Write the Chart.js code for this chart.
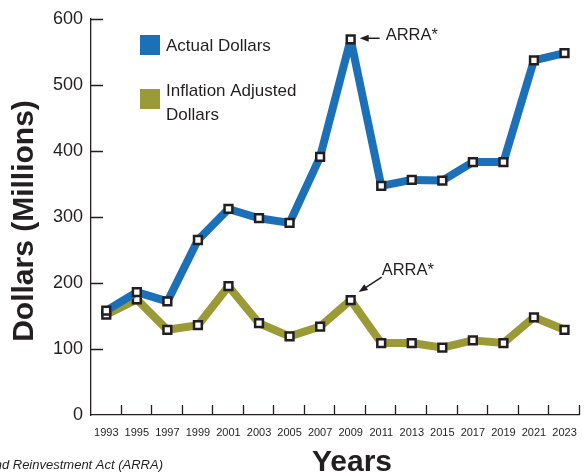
<!DOCTYPE html>
<html>
<head>
<meta charset="utf-8">
<script src="https://cdn.jsdelivr.net/npm/chart.js@4.4.1/dist/chart.umd.min.js"></script>
<style>
    body { margin: 0; background: #fff; }
    #wrap { width: 588px; height: 475px; }
</style>
</head>
<body>
<div id="wrap"><canvas id="lineChart" width="588" height="475"></canvas></div>
<script>
// data
const years = ['1993', '1995', '1997', '1999', '2001', '2003', '2005', '2007',
    '2009', '2011', '2013', '2015', '2017', '2019', '2021', '2023'];
const actualDollars = [158, 186, 172, 265, 312, 298, 291, 391, 569, 347, 356, 355, 383, 383, 537, 548];
const adjustedDollars = [152, 175, 129, 136, 195, 139, 119, 134, 174, 109, 109, 102, 113, 109, 148, 129];
const yTicks = [0, 100, 200, 300, 400, 500, 600];
const legendText = [['Actual Dollars'], ['Inflation Adjusted', 'Dollars']];
const noteYear = '2009';
const noteText = 'ARRA*';
const footnote = '*American Recovery and Reinvestment Act (ARRA)';

const ink = '#231f20';
const sans = "'Liberation Sans', Arial, Helvetica, sans-serif";

function arrow(ctx, x1, y1, x2, y2) {
    const a = Math.atan2(y2 - y1, x2 - x1);
    ctx.beginPath();
    ctx.moveTo(x1, y1);
    ctx.lineTo(x2 - 6 * Math.cos(a), y2 - 6 * Math.sin(a));
    ctx.stroke();
    ctx.beginPath();
    ctx.moveTo(x2, y2);
    ctx.lineTo(x2 - 9 * Math.cos(a) + 3.5 * Math.sin(a), y2 - 9 * Math.sin(a) - 3.5 * Math.cos(a));
    ctx.lineTo(x2 - 9 * Math.cos(a) - 3.5 * Math.sin(a), y2 - 9 * Math.sin(a) + 3.5 * Math.cos(a));
    ctx.closePath();
    ctx.fill();
}

// inside ticks, titles, legend and notes
const extras = {
    id: 'extras',
    afterDraw(chart) {
        const ctx = chart.ctx;
        const x = chart.scales.x;
        const y = chart.scales.y;
        ctx.save();
        ctx.strokeStyle = ink;
        ctx.fillStyle = ink;
        ctx.lineWidth = 1.3;

        // tick marks pointing into the plot
        ctx.beginPath();
        yTicks.slice(1).forEach(v => {
            const py = Math.round(y.getPixelForValue(v)) + 0.5;
            ctx.moveTo(x.left, py);
            ctx.lineTo(x.left + 12, py);
        });
        for (let k = 1; k <= years.length; k++) {
            const px = Math.round(x.getPixelForValue(k - 0.5)) - 0.5;
            ctx.moveTo(px, y.bottom);
            ctx.lineTo(px, y.bottom - 10);
        }
        ctx.stroke();

        // axis titles
        ctx.font = 'bold 30px ' + sans;
        ctx.textAlign = 'center';
        ctx.textBaseline = 'alphabetic';
        ctx.fillText('Years', 352, 471);
        ctx.save();
        ctx.translate(33, 221);
        ctx.rotate(-Math.PI / 2);
        ctx.fillText('Dollars (Millions)', 0, 0);
        ctx.restore();

        // legend
        ctx.textAlign = 'left';
        ctx.font = '17px ' + sans;
        const boxTop = [35, 89];
        chart.data.datasets.forEach((ds, i) => {
            ctx.fillStyle = ds.borderColor;
            ctx.fillRect(140, boxTop[i], 20, 20);
            ctx.fillStyle = ink;
            legendText[i].forEach((line, j) => {
                ctx.fillText(line, 166, boxTop[i] + 16 + (i === 1 ? -9 : 0) + j * 24);
            });
        });

        // ARRA notes
        const idx = years.indexOf(noteYear);
        const p1 = chart.getDatasetMeta(0).data[idx];
        const p2 = chart.getDatasetMeta(1).data[idx];
        ctx.font = '16.5px ' + sans;
        ctx.lineWidth = 1.5;
        ctx.fillText(noteText, p1.x + 35, p1.y + 1);
        arrow(ctx, p1.x + 29, p1.y - 1, p1.x + 9, p1.y - 1);
        ctx.fillText(noteText, p2.x + 31, p2.y - 25);
        arrow(ctx, p2.x + 31, p2.y - 23, p2.x + 8, p2.y - 8);

        // footnote, clipped at the left edge like the original
        ctx.font = 'italic 13px ' + sans;
        ctx.textAlign = 'right';
        ctx.fillText(footnote, 163, 469);
        ctx.restore();
    }
};

const ctx = document.getElementById('lineChart').getContext('2d');

new Chart(ctx, {
    type: 'line',
    data: {
        labels: years,
        datasets: [{
            label: 'Actual Dollars',
            data: actualDollars,
            borderColor: '#1c70b7',
            borderWidth: 8,
            borderJoinStyle: 'bevel',
            pointStyle: 'rect',
            pointRadius: 5.5,
            pointBorderWidth: 2.5,
            pointBorderColor: ink,
            pointBackgroundColor: '#fff'
        }, {
            label: 'Inflation Adjusted Dollars',
            data: adjustedDollars,
            borderColor: '#9a9a36',
            borderWidth: 8,
            borderJoinStyle: 'bevel',
            pointStyle: 'rect',
            pointRadius: 5.5,
            pointBorderWidth: 2.5,
            pointBorderColor: ink,
            pointBackgroundColor: '#fff'
        }]
    },
    options: {
        responsive: false,
        animation: false,
        layout: { padding: { top: 15, right: 1 } },
        plugins: {
            legend: { display: false },
            tooltip: { enabled: false }
        },
        scales: {
            x: {
                type: 'category',
                offset: true,
                grid: { display: false, drawTicks: false, offset: true },
                border: { display: true, color: ink, width: 1.3 },
                ticks: {
                    color: ink,
                    padding: 11,
                    maxRotation: 0,
                    autoSkip: false,
                    font: { family: sans, size: 11 }
                },
                afterFit(scale) { scale.height = 60; }
            },
            y: {
                min: 0,
                max: 600,
                grid: { display: false, drawTicks: false },
                border: { display: true, color: ink, width: 1.3 },
                ticks: {
                    stepSize: 100,
                    color: ink,
                    padding: 8,
                    font: { family: sans, size: 18 }
                },
                afterFit(scale) { scale.width = 91; }
            }
        }
    },
    plugins: [extras]
});
</script>
</body>
</html>
